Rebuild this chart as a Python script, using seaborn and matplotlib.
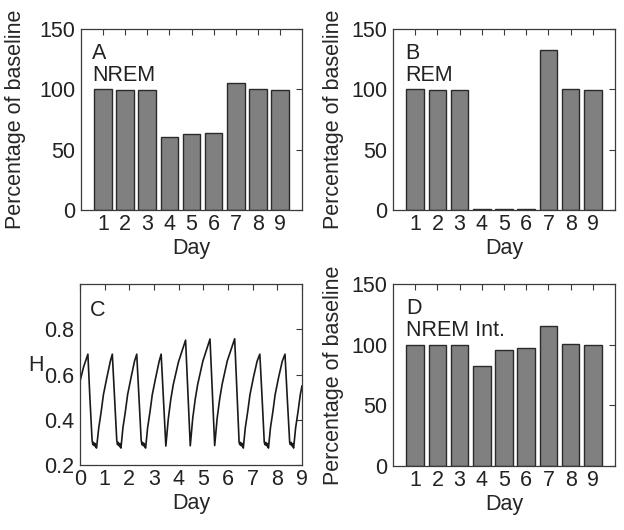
import matplotlib
matplotlib.use("Agg")
import matplotlib.pyplot as plt
import seaborn as sns
import pandas as pd

days = [1, 2, 3, 4, 5, 6, 7, 8, 9]
nrem_pct = [100.2, 99.6, 99.6, 60.3, 63.1, 63.6, 104.9, 100.4, 99.6]
rem_pct = [100.0, 99.6, 99.6, 0.6, 0.5, 0.5, 132.9, 100.0, 99.6]
nrem_int_pct = [100.0, 99.6, 99.6, 82.4, 95.7, 97.2, 115.2, 100.4, 99.5]

# homeostatic process H
h_day = [0.00, 0.15, 0.32, 0.40, 0.49, 0.52, 0.55, 0.58, 0.61, 0.64, 0.67,
         0.76, 0.86, 0.95, 1.09, 1.23, 1.31, 1.40, 1.49, 1.52, 1.55, 1.58,
         1.61, 1.63, 1.66, 1.74, 1.84, 1.93, 2.07, 2.21, 2.30, 2.39, 2.48,
         2.51, 2.54, 2.57, 2.60, 2.63, 2.66, 2.74, 2.84, 2.93, 3.07, 3.21,
         3.29, 3.48, 3.58, 3.68, 3.78, 3.99, 4.28, 4.47, 4.57, 4.67, 4.77,
         4.98, 5.27, 5.46, 5.56, 5.66, 5.76, 5.97, 6.27, 6.36, 6.45, 6.48,
         6.51, 6.54, 6.57, 6.60, 6.62, 6.70, 6.80, 6.89, 7.03, 7.18, 7.29,
         7.38, 7.47, 7.50, 7.53, 7.56, 7.59, 7.62, 7.64, 7.72, 7.82, 7.91,
         8.05, 8.20, 8.31, 8.40, 8.50, 8.53, 8.56, 8.59, 8.62, 8.64, 8.66,
         8.74, 8.84, 8.93, 9.00]
h_val = [0.570, 0.635, 0.690, 0.500, 0.310, 0.290, 0.300, 0.285, 0.295, 0.280, 0.275,
         0.364, 0.437, 0.511, 0.587, 0.659, 0.690, 0.500, 0.310, 0.290, 0.300, 0.285,
         0.295, 0.280, 0.275, 0.364, 0.437, 0.511, 0.587, 0.659, 0.690, 0.500, 0.310,
         0.290, 0.300, 0.285, 0.295, 0.280, 0.275, 0.364, 0.437, 0.511, 0.587, 0.659,
         0.690, 0.284, 0.405, 0.490, 0.555, 0.655, 0.752, 0.285, 0.407, 0.490, 0.556,
         0.659, 0.757, 0.286, 0.407, 0.490, 0.556, 0.660, 0.758, 0.530, 0.300, 0.290,
         0.300, 0.285, 0.295, 0.280, 0.275, 0.364, 0.437, 0.511, 0.587, 0.659, 0.690,
         0.500, 0.300, 0.290, 0.300, 0.285, 0.295, 0.280, 0.275, 0.364, 0.437, 0.511,
         0.587, 0.659, 0.690, 0.500, 0.300, 0.290, 0.300, 0.285, 0.295, 0.280, 0.275,
         0.364, 0.437, 0.511, 0.550]

sns.set_style("white")
plt.rcParams['font.family'] = ['Liberation Sans', 'DejaVu Sans']
plt.rcParams['font.size'] = 15.5
plt.rcParams['text.color'] = '#222222'

fs = 15.5
bar_color = '#808080'
edge_color = '#2a2a2a'


def style_axes(ax):
    for s in ax.spines.values():
        s.set_visible(True)
        s.set_color('#3a3a3a')
        s.set_linewidth(0.9)
    ax.tick_params(direction='in', length=4, width=0.8, color='#3a3a3a',
                   top=True, right=True, labelsize=fs, labelcolor='#222222')
    ax.tick_params(axis='x', pad=3)
    ax.tick_params(axis='y', pad=4)


def bar_panel(ax, vals, letter, name, xl, ylab_x):
    df = pd.DataFrame({'Day': days, 'pct': vals})
    sns.barplot(data=df, x='Day', y='pct', native_scale=True, ax=ax,
                color=bar_color, saturation=1, edgecolor=edge_color,
                linewidth=1.0, width=0.8)
    ax.set_xlim(0, 10)
    ax.set_ylim(0, 150)
    ax.set_xticks(days)
    ax.set_yticks([0, 50, 100, 150])
    ax.set_xlabel('Day', fontsize=fs, labelpad=2)
    ax.set_ylabel('Percentage of baseline', fontsize=fs)
    ax.yaxis.set_label_coords(ylab_x, 0.5)
    ax.text(xl, 125, letter, fontsize=fs, va='baseline')
    ax.text(xl, 107, name, fontsize=fs, va='baseline')
    style_axes(ax)


fig = plt.figure(figsize=(6.24, 5.30), dpi=100)
axA = fig.add_axes([0.1298, 0.6038, 0.3542, 0.3415])
axB = fig.add_axes([0.6298, 0.6038, 0.3558, 0.3415])
axC = fig.add_axes([0.1282, 0.1226, 0.3558, 0.3415])
axD = fig.add_axes([0.6298, 0.1208, 0.3558, 0.3434])

bar_panel(axA, nrem_pct, 'A', 'NREM', 0.5, -0.25)
bar_panel(axB, rem_pct, 'B', 'REM', 0.55, -0.22)
bar_panel(axD, nrem_int_pct, 'D', 'NREM Int.', 0.6, -0.22)

sns.lineplot(x=h_day, y=h_val, ax=axC, color='#1a1a1a', linewidth=1.2,
             estimator=None, sort=False)
axC.set_xlim(0, 9)
axC.set_ylim(0.2, 1.0)
axC.set_xticks(range(10))
axC.set_yticks([0.2, 0.4, 0.6, 0.8])
axC.set_yticklabels(['0.2', '0.4', '0.6', '0.8'])
axC.set_xlabel('Day', fontsize=fs, labelpad=2)
axC.set_ylabel('H', fontsize=fs, rotation=0, ha='center', va='center')
axC.yaxis.set_label_coords(-0.2, 0.55)
axC.text(0.41, 0.859, 'C', fontsize=fs, va='baseline')
style_axes(axC)

fig.savefig('out.png', dpi=100, facecolor='white')
